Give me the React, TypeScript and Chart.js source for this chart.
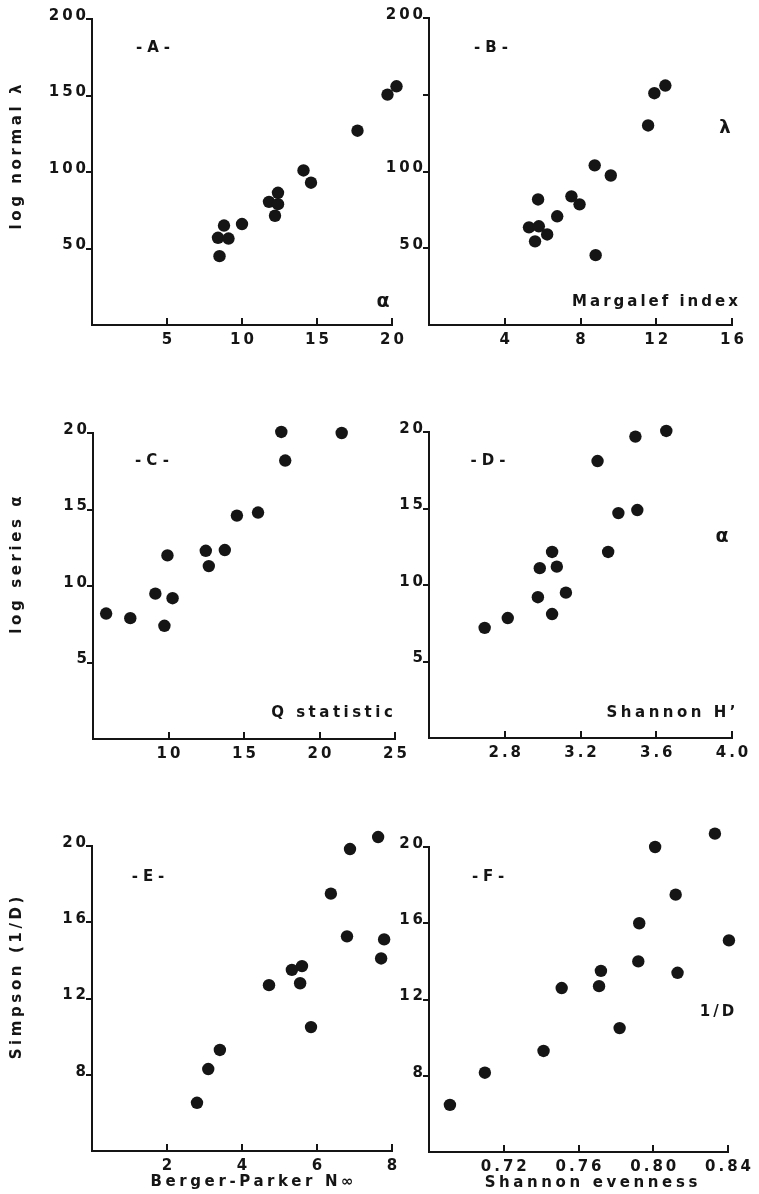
import React, { useEffect, useRef } from 'react';
import { Chart, registerables } from 'chart.js';

Chart.register(...registerables);

// ---------- data ----------
// Panel A: Fisher alpha (x) vs log normal lambda (y)
const aX = [8.4, 8.5, 8.8, 9.1, 10.0, 11.8, 12.2, 12.4, 12.4, 14.1, 14.6, 17.7, 19.7, 20.3];
const aY = [57, 45, 65, 56.5, 66, 80.5, 71.4, 86.4, 79, 101, 93, 127, 150.6, 156];
// Panel B: Margalef index (x) vs log normal lambda (y)
const bX = [5.28, 5.6, 5.76, 5.8, 6.24, 6.77, 7.52, 7.95, 8.75, 8.8, 9.6, 11.57, 11.9, 12.48];
const bY = [63.6, 54.5, 81.8, 64.3, 59, 70.8, 83.8, 78.6, 104, 45.5, 97.4, 130, 151, 156];
// Panel C: Q statistic (x) vs log series alpha (y)
const cX = [5.87, 7.47, 9.13, 9.73, 9.93, 10.27, 12.47, 12.67, 13.73, 14.53, 15.93, 17.47, 17.73, 21.47];
const cY = [8.2, 7.9, 9.5, 7.4, 12.0, 9.2, 12.3, 11.3, 12.35, 14.6, 14.8, 20.07, 18.2, 20.0];
// Panel D: Shannon H' (x) vs log series alpha (y)
const dX = [2.694, 2.816, 2.975, 2.985, 3.05, 3.05, 3.075, 3.123, 3.29, 3.346, 3.4, 3.5, 3.49, 3.653];
const dY = [7.2, 7.84, 9.2, 11.1, 12.16, 8.1, 11.2, 9.5, 18.1, 12.16, 14.7, 14.9, 19.7, 20.07];
// Panel E: Berger-Parker (x) vs Simpson 1/D (y)
const eX = [2.8, 3.1, 3.41, 4.72, 5.33, 5.55, 5.6, 5.84, 6.37, 6.8, 6.88, 7.63, 7.71, 7.79];
const eY = [6.53, 8.3, 9.3, 12.7, 13.5, 12.8, 13.7, 10.5, 17.5, 15.26, 19.84, 20.47, 14.1, 15.1];
// Panel F: Shannon evenness (x) vs Simpson 1/D (y)
const fX = [0.6912, 0.7099, 0.7413, 0.751, 0.771, 0.772, 0.782, 0.792, 0.7925, 0.801, 0.812, 0.813, 0.833, 0.8405];
const fY = [6.47, 8.16, 9.3, 12.6, 12.7, 13.5, 10.5, 14.0, 16.0, 20.0, 17.5, 13.4, 20.7, 15.1];

// tick values and labels
const aXTicks = [5, 10, 15, 20];
const aXLabels = ['5', '10', '15', '20'];
const lambdaTicks = [50, 100, 150, 200];
const aYLabels = ['50', '100', '150', '200'];
const bXTicks = [4, 8, 12, 16];
const bXLabels = ['4', '8', '12', '16'];
const bYLabels = ['50', '100', '', '200'];
const cXTicks = [10, 15, 20, 25];
const cXLabels = ['10', '15', '20', '25'];
const alphaTicks = [5, 10, 15, 20];
const alphaLabels = ['5', '10', '15', '20'];
const dXTicks = [2.8, 3.2, 3.6, 4.0];
const dXLabels = ['2.8', '3.2', '3.6', '4.0'];
const eXTicks = [2, 4, 6, 8];
const eXLabels = ['2', '4', '6', '8'];
const simpTicks = [8, 12, 16, 20];
const simpLabels = ['8', '12', '16', '20'];
const fXTicks = [0.72, 0.76, 0.8, 0.84];
const fXLabels = ['0.72', '0.76', '0.80', '0.84'];

// ---------- styling ----------
const FONT = '"DejaVu Sans", "Liberation Sans", Arial, sans-serif';
const INK = '#151515';
const TICK_LS = 3;
const Y_AXIS_W = 60;
const X_AXIS_H = 30;
const HEAD = 14; // extra plot room above / right of the drawn axes (px)

type Note = { text: string; x: number; y: number; size: number; ls: number; rot?: boolean };
type Panel = {
  xs: number[]; ys: number[];
  xMin: number; xMax: number; yMin: number; yMax: number;
  xTicks: number[]; xLabels: string[];
  yTicks: number[]; yLabels: string[];
  box: { left: number; top: number; width: number; height: number };
  area: { left: number; top: number; right: number; bottom: number };
  notes: Note[];
};

const LEFT_COL = { left: 0, width: 450 };
const RIGHT_COL = { left: 380, width: 430 };
const ROW1 = { top: -30, height: 400 };
const ROW2 = { top: 385, height: 395 };
const ROW3 = { top: 790, height: 404 };

const panels: Panel[] = [
  {
    xs: aX, ys: aY, xMin: 0, xMax: 20, yMin: 0, yMax: 200,
    xTicks: aXTicks, xLabels: aXLabels, yTicks: lambdaTicks, yLabels: aYLabels,
    box: { ...LEFT_COL, ...ROW1 },
    area: { left: 92, top: 19, right: 392, bottom: 325 },
    notes: [
      { text: '-A-', x: 153, y: 48, size: 15, ls: 5 },
      { text: 'α', x: 383, y: 302, size: 19, ls: 0 },
      { text: 'log normal λ', x: 17, y: 157, size: 15, ls: 3.6, rot: true },
    ],
  },
  {
    xs: bX, ys: bY, xMin: 0, xMax: 16, yMin: 0, yMax: 200,
    xTicks: bXTicks, xLabels: bXLabels, yTicks: lambdaTicks, yLabels: bYLabels,
    box: { ...RIGHT_COL, ...ROW1 },
    area: { left: 429, top: 18, right: 732, bottom: 325 },
    notes: [
      { text: '-B-', x: 491, y: 48, size: 15, ls: 5 },
      { text: 'λ', x: 725, y: 128, size: 18, ls: 0 },
      { text: 'Margalef index', x: 655, y: 302, size: 15, ls: 3 },
    ],
  },
  {
    xs: cX, ys: cY, xMin: 5, xMax: 25, yMin: 0, yMax: 20,
    xTicks: cXTicks, xLabels: cXLabels, yTicks: alphaTicks, yLabels: alphaLabels,
    box: { ...LEFT_COL, ...ROW2 },
    area: { left: 93, top: 433, right: 395, bottom: 739 },
    notes: [
      { text: '-C-', x: 152, y: 461, size: 15, ls: 5 },
      { text: 'Q statistic', x: 332, y: 713, size: 15, ls: 3.5 },
      { text: 'log series α', x: 17, y: 565, size: 15, ls: 3.6, rot: true },
    ],
  },
  {
    xs: dX, ys: dY, xMin: 2.4, xMax: 4.0, yMin: 0, yMax: 20,
    xTicks: dXTicks, xLabels: dXLabels, yTicks: alphaTicks, yLabels: alphaLabels,
    box: { ...RIGHT_COL, ...ROW2 },
    area: { left: 429, top: 432, right: 732, bottom: 738 },
    notes: [
      { text: '-D-', x: 488, y: 461, size: 15, ls: 5 },
      { text: 'α', x: 722, y: 537, size: 19, ls: 0 },
      { text: 'Shannon H’', x: 671, y: 713, size: 15, ls: 3.5 },
    ],
  },
  {
    xs: eX, ys: eY, xMin: 0, xMax: 8, yMin: 4, yMax: 20,
    xTicks: eXTicks, xLabels: eXLabels, yTicks: simpTicks, yLabels: simpLabels,
    box: { ...LEFT_COL, ...ROW3 },
    area: { left: 92, top: 846, right: 392, bottom: 1151 },
    notes: [
      { text: '-E-', x: 148, y: 877, size: 15, ls: 5 },
      { text: 'Simpson (1/D)', x: 17, y: 978, size: 15, ls: 3.6, rot: true },
      { text: 'Berger-Parker N∞', x: 252, y: 1182, size: 15, ls: 3.6 },
    ],
  },
  {
    xs: fX, ys: fY, xMin: 0.68, xMax: 0.84, yMin: 4, yMax: 20,
    xTicks: fXTicks, xLabels: fXLabels, yTicks: simpTicks, yLabels: simpLabels,
    box: { ...RIGHT_COL, ...ROW3 },
    area: { left: 429, top: 847, right: 728, bottom: 1152 },
    notes: [
      { text: '-F-', x: 488, y: 877, size: 15, ls: 5 },
      { text: '1/D', x: 717, y: 1012, size: 15, ls: 3 },
      { text: 'Shannon evenness', x: 591, y: 1183, size: 15, ls: 3.6 },
    ],
  },
];

function framePlugin(p: Panel) {
  return {
    id: 'frame',
    beforeDraw(chart: any) {
      chart.ctx.letterSpacing = TICK_LS + 'px';
    },
    afterDraw(chart: any) {
      const ctx = chart.ctx as CanvasRenderingContext2D;
      const xs = chart.scales.x;
      const ys = chart.scales.y;
      const x0 = Math.round(xs.getPixelForValue(p.xMin));
      const x1 = Math.round(xs.getPixelForValue(p.xMax));
      const y0 = Math.round(ys.getPixelForValue(p.yMin));
      const y1 = Math.round(ys.getPixelForValue(p.yMax));
      ctx.save();
      ctx.strokeStyle = INK;
      ctx.lineWidth = 2;
      ctx.lineCap = 'square';
      ctx.beginPath();
      // axis lines
      ctx.moveTo(x0, y1);
      ctx.lineTo(x0, y0);
      ctx.lineTo(x1, y0);
      // tick marks
      p.yTicks.forEach((v) => {
        const py = Math.round(ys.getPixelForValue(v));
        ctx.moveTo(x0 - 5, py);
        ctx.lineTo(x0, py);
      });
      p.xTicks.forEach((v) => {
        const px = Math.round(xs.getPixelForValue(v));
        ctx.moveTo(px, y0);
        ctx.lineTo(px, y0 - 6);
      });
      ctx.stroke();
      ctx.fillStyle = INK;
      ctx.textAlign = 'center';
      ctx.textBaseline = 'middle';
      p.notes.forEach((n) => {
        ctx.save();
        ctx.font = `bold ${n.size}px ${FONT}`;
        (ctx as any).letterSpacing = n.ls + 'px';
        const cx = n.x - p.box.left;
        const cy = n.y - p.box.top;
        ctx.translate(cx, cy);
        if (n.rot) ctx.rotate(-Math.PI / 2);
        ctx.fillText(n.text, n.ls / 2, 0);
        ctx.restore();
      });
      ctx.restore();
    },
  };
}

function PanelChart({ p }: { p: Panel }) {
  const ref = useRef<HTMLCanvasElement | null>(null);
  useEffect(() => {
    if (!ref.current) return;
    const tickFont = { family: FONT, weight: 'bold' as const, size: 15 };
    const yPerPx = (p.yMax - p.yMin) / (p.area.bottom - p.area.top);
    const xPerPx = (p.xMax - p.xMin) / (p.area.right - p.area.left);
    const chart = new Chart(ref.current, {
      type: 'scatter',
      data: {
        datasets: [
          {
            data: p.xs.map((x, i) => ({ x, y: p.ys[i] })),
            backgroundColor: INK,
            borderWidth: 0,
            pointRadius: 6.2,
            clip: false as any,
          },
        ],
      },
      plugins: [framePlugin(p)],
      options: {
        animation: false,
        responsive: false,
        devicePixelRatio: 1,
        layout: {
          padding: {
            left: p.area.left - p.box.left - Y_AXIS_W,
            right: p.box.left + p.box.width - p.area.right - HEAD,
            top: p.area.top - p.box.top - HEAD,
            bottom: p.box.top + p.box.height - p.area.bottom - X_AXIS_H,
          },
        },
        plugins: { legend: { display: false }, tooltip: { enabled: false } },
        scales: {
          x: {
            type: 'linear',
            min: p.xMin,
            max: p.xMax + HEAD * xPerPx,
            grid: { display: false, drawTicks: false },
            border: { display: false },
            afterBuildTicks: (s: any) => {
              s.ticks = p.xTicks.map((v) => ({ value: v }));
            },
            afterFit: (s: any) => {
              s.height = X_AXIS_H;
            },
            ticks: {
              autoSkip: false,
              maxRotation: 0,
              padding: 6,
              labelOffset: TICK_LS / 2,
              color: INK,
              font: tickFont,
              callback: (_v: any, i: number) => p.xLabels[i],
            },
          },
          y: {
            type: 'linear',
            min: p.yMin,
            max: p.yMax + HEAD * yPerPx,
            grid: { display: false, drawTicks: false },
            border: { display: false },
            afterBuildTicks: (s: any) => {
              s.ticks = p.yTicks.map((v) => ({ value: v }));
            },
            afterFit: (s: any) => {
              s.width = Y_AXIS_W;
            },
            ticks: {
              autoSkip: false,
              padding: 3,
              labelOffset: -3,
              color: INK,
              font: tickFont,
              callback: (_v: any, i: number) => p.yLabels[i],
            },
          },
        },
      } as any,
    });
    return () => chart.destroy();
  }, [p]);
  return (
    <canvas
      ref={ref}
      width={p.box.width}
      height={p.box.height}
      style={{
        position: 'absolute',
        left: p.box.left,
        top: p.box.top,
        width: p.box.width,
        height: p.box.height,
      }}
    />
  );
}

export default function App() {
  return (
    <div
      style={{
        position: 'fixed',
        left: 0,
        top: 0,
        width: 759,
        height: 1194,
        background: '#ffffff',
        overflow: 'hidden',
      }}
    >
      {panels.map((p, i) => (
        <PanelChart key={i} p={p} />
      ))}
    </div>
  );
}
